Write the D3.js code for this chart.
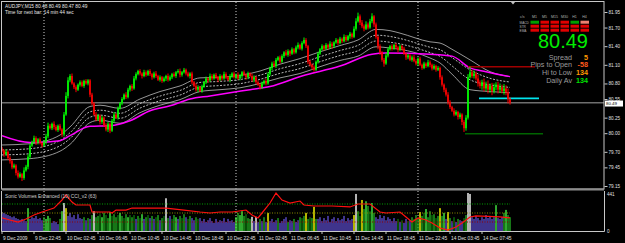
<!DOCTYPE html>
<html>
<head>
<meta charset="utf-8">
<script src="https://cdn.jsdelivr.net/npm/d3@7"></script>
<style>
    html, body { margin: 0; padding: 0; background: #000; overflow: hidden; }
    svg { display: block; }
    text { font-family: "Liberation Sans", Arial, sans-serif; }
</style>
</head>
<body>
<div id="chart"></div>
<script>
// AUDJPY M15, one entry per bar
const firstOpen = 79.75;
const closes = [
    79.72, 79.66, 79.70, 79.60, 79.55, 79.45, 79.48, 79.36, 79.30, 79.34,
    79.28, 79.40, 79.46, 79.62, 79.80, 79.86, 79.92, 79.85, 79.90, 79.84,
    79.80, 79.86, 79.95, 80.12, 80.08, 80.15, 80.10, 80.05, 80.12, 80.06,
    79.98, 80.30, 80.60, 80.85, 80.92, 80.80, 80.74, 80.70, 80.78, 80.82,
    80.76, 80.84, 80.80, 80.85, 80.62, 80.48, 80.30, 80.22, 80.28, 80.18,
    80.25, 80.12, 80.06, 80.15, 80.04, 80.20, 80.30, 80.25, 80.40, 80.48,
    80.55, 80.62, 80.58, 80.70, 80.76, 80.72, 80.88, 80.95, 81.00, 80.96,
    80.92, 80.98, 80.94, 81.00, 80.95, 80.90, 80.96, 80.92, 80.86, 80.90,
    80.84, 80.88, 80.92, 80.86, 80.90, 80.95, 80.92, 80.98, 81.00, 80.94,
    80.98, 81.02, 80.96, 80.92, 80.96, 80.82, 80.76, 80.70, 80.74, 80.68,
    80.75, 80.82, 80.88, 80.85, 80.92, 80.88, 80.94, 80.90, 80.86, 80.92,
    80.88, 80.95, 80.90, 80.86, 80.92, 80.96, 80.90, 80.94, 80.88, 80.92,
    80.98, 80.94, 80.90, 80.96, 80.92, 80.86, 80.90, 80.82, 80.78, 80.74,
    80.80, 80.84, 80.80, 80.95, 81.05, 81.12, 81.08, 81.18, 81.22, 81.15,
    81.24, 81.30, 81.26, 81.32, 81.28, 81.35, 81.30, 81.38, 81.42, 81.36,
    81.45, 81.50, 81.40, 81.15, 81.10, 81.06, 81.02, 81.15, 81.28, 81.35,
    81.40, 81.36, 81.42, 81.38, 81.44, 81.40, 81.46, 81.50, 81.45, 81.52,
    81.48, 81.55, 81.50, 81.56, 81.60, 81.55, 81.68, 81.80, 81.88, 81.78,
    81.72, 81.68, 81.75, 81.70, 81.80, 81.88, 81.75, 81.55, 81.40, 81.30,
    81.18, 81.12, 81.25, 81.35, 81.40, 81.36, 81.42, 81.38, 81.34, 81.40,
    81.36, 81.28, 81.22, 81.25, 81.18, 81.22, 81.16, 81.12, 81.20, 81.10,
    81.05, 81.12, 81.08, 81.14, 81.10, 81.04, 81.08, 81.02, 81.05, 80.90,
    80.78, 80.70, 80.62, 80.50, 80.42, 80.36, 80.30, 80.34, 80.26, 80.30,
    80.18, 80.08, 80.25, 80.90, 80.98, 80.92, 80.96, 80.88, 80.80, 80.76,
    80.82, 80.72, 80.78, 80.70, 80.76, 80.68, 80.74, 80.78, 80.70, 80.74,
    80.68, 80.72, 80.66, 80.55, 80.49
];
// wick lengths in pips above / below the body
const wickUp = [
    3,2,4,2,3,2,3,2,4,3,2,5,3,4,3,2,4,3,2,3,
    2,3,4,5,3,2,4,3,2,3,2,4,6,5,3,4,2,3,2,3,
    3,2,3,2,2,3,2,4,3,2,3,2,4,3,2,3,4,2,3,2,
    3,2,4,3,2,3,4,3,2,3,2,4,3,2,3,2,3,4,2,3,
    2,3,2,4,3,2,3,2,3,4,2,3,2,3,2,3,2,4,3,2,
    3,2,3,2,4,3,2,3,2,3,2,4,3,2,3,2,3,2,4,3,
    2,3,2,3,2,4,3,2,3,2,3,2,4,3,2,3,4,3,2,3,
    3,2,4,3,2,3,2,3,4,2,3,4,3,2,3,2,3,2,3,2,
    3,2,3,2,4,3,2,3,2,3,2,4,3,2,3,2,4,5,6,3,
    4,3,5,3,4,5,2,3,2,3,2,3,4,3,2,3,2,3,2,3,
    2,3,2,3,2,3,4,3,2,3,2,3,2,4,3,2,3,2,3,2,
    3,2,3,4,3,2,4,3,2,3,2,3,4,5,9,4,5,3,6,5,
    4,6,5,7,4,5,6,4,5,6,4,7,5,6,3
];
const wickDown = [
    3,4,2,3,4,3,2,4,3,2,5,3,2,4,3,2,3,4,3,2,
    3,2,4,3,2,3,4,2,3,2,4,3,2,4,3,2,3,4,2,3,
    2,3,2,3,4,3,2,3,2,4,3,2,3,4,4,2,3,2,3,2,
    3,2,3,2,3,4,2,3,2,3,4,2,3,2,3,4,2,3,2,3,
    3,2,4,3,2,3,2,3,2,4,3,2,3,2,4,3,2,3,4,2,
    3,2,3,4,2,3,2,3,4,2,3,2,3,2,4,3,2,3,2,3,
    3,2,4,3,2,3,4,3,2,4,3,2,3,2,3,4,2,3,2,3,
    2,3,2,3,4,2,3,2,3,2,3,2,3,4,3,4,3,2,3,2,
    2,3,2,3,2,4,3,2,3,2,3,2,3,2,4,3,2,3,2,4,
    3,4,2,3,2,3,4,3,5,4,3,5,2,3,2,3,2,3,4,2,
    3,2,4,3,2,3,2,3,4,2,3,2,3,2,4,3,2,3,2,4,
    3,4,3,4,3,2,3,2,4,3,5,6,4,3,2,3,4,3,5,4,
    6,5,4,6,5,7,4,5,6,5,4,6,5,7,3
];

const volumes = [
    220,210,195,185,175,160,170,150,140,130,140,125,115,265,140,160,150,175,140,150,
    125,160,140,175,150,95,115,105,80,140,230,325,265,175,210,160,185,140,195,150,
    140,160,125,150,140,185,230,160,175,195,160,210,185,150,220,175,195,160,185,210,
    175,150,195,160,185,160,185,140,175,150,195,140,160,185,150,175,140,160,185,125,
    150,175,380,150,175,140,185,160,140,175,150,195,160,140,175,150,125,160,140,150,
    115,140,105,125,150,115,95,140,105,125,115,150,105,140,115,125,105,160,210,185,
    230,175,195,150,140,165,115,165,105,140,115,160,105,210,115,140,105,125,150,95,
    115,140,160,105,125,115,140,105,125,160,150,175,210,140,160,150,280,140,140,160,
    115,150,125,175,105,140,160,115,150,125,140,175,115,150,125,140,185,430,230,175,
    360,255,345,290,230,325,210,160,140,185,150,175,125,160,140,115,150,115,140,105,
    125,95,140,115,125,160,140,185,150,220,175,210,255,160,230,185,195,150,175,265,
    175,210,140,220,150,115,160,105,140,125,115,150,185,441,430,160,140,175,150,125,
    160,140,185,150,175,140,160,300,150,140,160,210,245,185,160
];
// b blue, g green, d dark green, G lime, w white, y yellow
const volColors = (
    'bbbbbbbbbbbbbGbbbbbb' + 'bgGGgbbbbgGwybbbbbbb' + 'bgbgbgwggdGgdgGdggdG' +
    'gdgGdgdbgdGbgdbgbdgb' + 'gdwgbdgGbgdgbdgbbgdb' + 'bbbbbbbbbbbbbbbbbGgG' +
    'Ggdggwbwbgbgbybbbbgb' + 'bbbgbbgbbgdgygdgygbb' + 'bbbbbbbbbbbbbbbbywgd' +
    'ygGgdGgbbbbbbbbbbbdb' + 'dbbdbgdggygdGggdgdgy' + 'gGbygbdbgbbdgwwbbbbb' +
    'bbbbbbbGbbbgGgg'
).split('');

const cciBars = [0,4,8,12,16,20,26,30,32,35,37,44,45,54,55,57,62,65,82,91,99,104,109,115,122,125,128,130,134,137,140,144,149,151,156,165,174,178,184,189,192,199,202,205,208,212,215,219,223,227,230,234,237,249,254];
const cciValues = [-55,-78,-100,-67,-22,11,55,144,200,122,89,89,11,11,0,33,33,55,55,33,11,0,11,11,33,-22,-55,0,111,222,144,111,133,89,78,78,67,100,100,11,0,11,-44,-100,-55,-78,-111,-167,-189,-155,-111,-44,-33,-44,-55];
const cciLevels = [100, 0, -100];

const maBars = [0, 14, 29, 34, 44, 54, 64, 74, 84, 94, 104, 114, 124, 134, 150, 169, 185, 192, 214, 225, 234, 242, 254];
const maValues = [79.96, 79.85, 79.88, 79.96, 80.11, 80.12, 80.20, 80.36, 80.44, 80.55, 80.60, 80.65, 80.70, 80.75, 80.92, 81.08, 81.27, 81.29, 81.27, 81.24, 81.05, 80.99, 80.91];

const bandBars = [0, 14, 29, 34, 44, 49, 59, 69, 79, 89, 99, 109, 119, 129, 139, 149, 159, 169, 178, 187, 194, 199, 214, 219, 225, 234, 244, 254];
const bandMid = [79.69, 79.71, 79.84, 79.96, 80.30, 80.33, 80.28, 80.44, 80.56, 80.65, 80.78, 80.80, 80.83, 80.90, 81.00, 81.08, 81.19, 81.29, 81.37, 81.53, 81.51, 81.48, 81.34, 81.29, 81.15, 80.94, 80.83, 80.78];
const bandHalf = [0.12, 0.12, 0.13, 0.14, 0.13, 0.12, 0.12, 0.11, 0.11, 0.11, 0.11, 0.10, 0.10, 0.10, 0.11, 0.12, 0.12, 0.12, 0.13, 0.14, 0.14, 0.13, 0.13, 0.16, 0.20, 0.24, 0.16, 0.13];

// day high, day open area, day low
const levelPrices = [81.07, 80.56, 79.99];
const levelFrom = [233, 238.5, 231.5];
const levelTo = [266.5, 268.5, 270.5];

const bidPrice = 80.49;
const priceTicks = [81.95, 81.70, 81.40, 81.10, 80.80, 80.55, 80.25, 80.00, 79.70, 79.45, 79.15];
const timeLabels = ['9 Dec 2009', '9 Dec 22:45', '10 Dec 02:45', '10 Dec 06:45', '10 Dec 10:45', '10 Dec 14:45',
    '10 Dec 18:45', '10 Dec 22:45', '11 Dec 02:45', '11 Dec 06:45', '11 Dec 10:45', '11 Dec 14:45',
    '11 Dec 18:45', '11 Dec 22:45', '14 Dec 03:45', '14 Dec 07:45'];
const timeLabelBars = [0, 16, 32, 48, 64, 80, 96, 112, 128, 144, 160, 176, 192, 208, 224, 240];
const daySeparators = [21, 117, 208];

const matrixCols = ['M1', 'M5', 'M15', 'M30', 'H1', 'H4'];
const matrixRows = ['MACD', 'STR', 'EMA'];
const matrixState = [
    ['up', 'dn', 'dn', 'dn', 'up', 'weak'],
    ['dn', 'dn', 'dn', 'dn', 'dn', 'dn'],
    ['dn', 'dn', 'dn', 'dn', 'dn', 'dn']
];
const infoLabels = ['Spread', 'Pips to Open', 'Hi to Low', 'Daily Av'];
const infoValues = ['5', '-58', '134', '134'];

(function drawChart() {
    const width = 625, height = 243;
    const frame = { left: 2, right: 604, top: 2, mainBottom: 189, subTop: 191, subBottom: 231 };

    const svg = d3.select('#chart').append('svg')
        .attr('width', width)
        .attr('height', height)
        .style('background', '#000');

    const x = d3.scaleLinear().domain([0, 301]).range([2, 604]);
    const y = d3.scaleLinear().domain([79.15, 81.95]).range([186, 12]);
    const yVol = d3.scaleLinear().domain([0, 441]).range([frame.subBottom, 193]);
    const yCci = d3.scaleLinear().domain([-100, 100]).range([222, 204]);

    const defs = svg.append('defs');
    defs.append('clipPath').attr('id', 'clip-main').append('rect')
        .attr('x', frame.left).attr('y', frame.top)
        .attr('width', frame.right - frame.left).attr('height', frame.mainBottom - frame.top);
    defs.append('clipPath').attr('id', 'clip-sub').append('rect')
        .attr('x', frame.left).attr('y', frame.subTop)
        .attr('width', frame.right - frame.left).attr('height', frame.subBottom - frame.subTop);

    // day separators
    svg.append('g').selectAll('line')
        .data(daySeparators)
        .enter().append('line')
        .attr('x1', d => x(d)).attr('x2', d => x(d))
        .attr('y1', frame.top).attr('y2', frame.subBottom)
        .attr('stroke', '#d0d0d0')
        .attr('stroke-width', 1)
        .attr('stroke-dasharray', '1,2');

    const main = svg.append('g').attr('clip-path', 'url(#clip-main)');

    // bid line
    main.append('line')
        .attr('x1', frame.left).attr('x2', frame.right)
        .attr('y1', y(bidPrice)).attr('y2', y(bidPrice))
        .attr('stroke', '#6e6e6e').attr('stroke-width', 1.6);

    // envelope lines
    const bandLines = [
        { k: 1, color: '#bdbdbd', dash: null },
        { k: 1 / 3, color: '#e6e6e6', dash: '2,1.5' },
        { k: -1 / 3, color: '#e6e6e6', dash: '2,1.5' },
        { k: -1, color: '#bdbdbd', dash: null }
    ];
    bandLines.forEach(b => {
        const line = d3.line()
            .x((d, i) => x(bandBars[i]))
            .y((d, i) => y(bandMid[i] + b.k * bandHalf[i]))
            .curve(d3.curveMonotoneX);
        main.append('path')
            .attr('d', line(bandMid))
            .attr('fill', 'none')
            .attr('stroke', b.color)
            .attr('stroke-width', 0.8)
            .attr('stroke-dasharray', b.dash);
    });

    // moving average
    const maLine = d3.line()
        .x((d, i) => x(maBars[i]))
        .y(d => y(d))
        .curve(d3.curveMonotoneX);
    main.append('path')
        .attr('d', maLine(maValues))
        .attr('fill', 'none')
        .attr('stroke', '#ff00ff')
        .attr('stroke-width', 1.5);

    // day levels
    const levelColors = ['#a00000', '#00e5ee', '#006400'];
    main.append('g').selectAll('line')
        .data(levelPrices)
        .enter().append('line')
        .attr('x1', (d, i) => x(levelFrom[i]))
        .attr('x2', (d, i) => x(levelTo[i]))
        .attr('y1', d => y(d)).attr('y2', d => y(d))
        .attr('stroke', (d, i) => levelColors[i])
        .attr('stroke-width', 1.6);

    // candles
    const bars = closes.map((c, i) => {
        const o = i === 0 ? firstOpen : closes[i - 1];
        return {
            i, o, c,
            h: Math.max(o, c) + (wickUp[i] || 0) / 100,
            l: Math.min(o, c) - (wickDown[i] || 0) / 100
        };
    });
    const candleColor = d => d.c >= d.o ? '#00ff00' : '#ff0000';

    const candles = main.append('g').selectAll('g')
        .data(bars)
        .enter().append('g');
    candles.append('rect')
        .attr('x', d => x(d.i) - 0.5)
        .attr('width', 1)
        .attr('y', d => y(d.h))
        .attr('height', d => y(d.l) - y(d.h))
        .attr('fill', candleColor);
    candles.append('rect')
        .attr('x', d => x(d.i) - 0.8)
        .attr('width', 1.6)
        .attr('y', d => y(Math.max(d.o, d.c)))
        .attr('height', d => Math.max(1, Math.abs(y(d.o) - y(d.c))))
        .attr('fill', candleColor);

    // lower panel: volumes + CCI
    const sub = svg.append('g').attr('clip-path', 'url(#clip-sub)');
    const volPalette = { b: '#5b4bc8', g: '#22a822', d: '#0b700b', G: '#44f044', w: '#ffffff', y: '#ffff00' };

    sub.append('g').selectAll('rect')
        .data(volumes)
        .enter().append('rect')
        .attr('x', (d, i) => x(i) - 0.7)
        .attr('width', 1.4)
        .attr('y', d => yVol(d))
        .attr('height', d => frame.subBottom - yVol(d))
        .attr('fill', (d, i) => volPalette[volColors[i]] || volPalette.b);

    const levelStroke = ['#00a000', '#8a8a00', '#900000'];
    sub.append('g').selectAll('line')
        .data(cciLevels)
        .enter().append('line')
        .attr('x1', x(0)).attr('x2', x(closes.length - 1))
        .attr('y1', d => yCci(d)).attr('y2', d => yCci(d))
        .attr('stroke', (d, i) => levelStroke[i])
        .attr('stroke-width', 1)
        .attr('stroke-dasharray', '1,1.5');

    const cciLine = d3.line()
        .x((d, i) => x(cciBars[i]))
        .y(d => yCci(d));
    sub.append('path')
        .attr('d', cciLine(cciValues))
        .attr('fill', 'none')
        .attr('stroke', '#ff1010')
        .attr('stroke-width', 1.2);

    // frames
    const border = '#c8c8c8';
    svg.append('rect')
        .attr('x', 1.5).attr('y', 1.5)
        .attr('width', frame.right - 1.5).attr('height', frame.mainBottom - 1.5)
        .attr('fill', 'none').attr('stroke', border).attr('stroke-width', 1);
    svg.append('rect')
        .attr('x', 1.5).attr('y', frame.mainBottom - 0.5)
        .attr('width', frame.right - 1.5).attr('height', 2)
        .attr('fill', '#8c8c8c');
    svg.append('path')
        .attr('d', `M1.5,${frame.subTop}V${frame.subBottom + 0.5}H${frame.right + 0.5}V${frame.subTop}`)
        .attr('fill', 'none').attr('stroke', border).attr('stroke-width', 1);

    // chart shift marker
    svg.append('path')
        .attr('d', 'M510.5,1.5L515.5,1.5L513,4.5Z')
        .attr('fill', '#c0c0c0');

    // price axis
    const priceAxis = svg.append('g')
        .attr('transform', `translate(${frame.right + 0.5},0)`)
        .call(d3.axisRight(y).tickValues(priceTicks).tickFormat(d3.format('.2f')).tickSize(3).tickPadding(1));
    priceAxis.select('.domain').remove();
    priceAxis.selectAll('line').attr('stroke', border);
    priceAxis.selectAll('text')
        .attr('fill', '#e0e0e0')
        .style('font-size', '4.6px');

    svg.append('rect')
        .attr('x', 605).attr('y', y(bidPrice) - 2.2)
        .attr('width', 18).attr('height', 6)
        .attr('fill', '#ffffff');
    svg.append('text')
        .attr('x', 606).attr('y', y(bidPrice) + 2.4)
        .attr('fill', '#000')
        .style('font-size', '4.4px')
        .text(bidPrice.toFixed(2));

    svg.append('text').attr('x', 607).attr('y', 196).attr('fill', '#e0e0e0').style('font-size', '4.6px').text('441');
    svg.append('text').attr('x', 607).attr('y', 233).attr('fill', '#e0e0e0').style('font-size', '4.6px').text('0');

    // time axis
    const timeAxis = svg.append('g');
    timeAxis.selectAll('line')
        .data(timeLabelBars)
        .enter().append('line')
        .attr('x1', d => x(d)).attr('x2', d => x(d))
        .attr('y1', frame.subBottom).attr('y2', frame.subBottom + 3)
        .attr('stroke', border);
    timeAxis.selectAll('text')
        .data(timeLabels)
        .enter().append('text')
        .attr('x', (d, i) => x(timeLabelBars[i]) + 1)
        .attr('y', 240)
        .attr('fill', '#e0e0e0')
        .style('font-size', '4.8px')
        .text(d => d);

    // captions
    svg.append('text').attr('x', 5).attr('y', 8).attr('fill', '#e8e8e8').style('font-size', '4.8px')
        .text('AUDJPY,M15  80.48 80.49 80.47 80.49');
    svg.append('text').attr('x', 5).attr('y', 13.5).attr('fill', '#e8e8e8').style('font-size', '4.8px')
        .text('Time for next bar: 14 min 44 sec');
    svg.append('text').attr('x', 5).attr('y', 198).attr('fill', '#d0d0d0').style('font-size', '4.8px')
        .text('Sonic Volumes Enhanced (10)   CCI_v2 (63)');

    // signal matrix
    const matrix = svg.append('g');
    const cellColor = { up: '#00a000', dn: '#e00000', weak: '#f08070' };
    matrix.append('text').attr('x', 520).attr('y', 18).attr('fill', '#b0b0b0').style('font-size', '3.6px').text('c/s');
    matrix.selectAll('.col')
        .data(matrixCols)
        .enter().append('text')
        .attr('x', (d, i) => 534.5 + i * 10)
        .attr('y', 18)
        .attr('text-anchor', 'middle')
        .attr('fill', '#b0b0b0')
        .style('font-size', '3.6px')
        .text(d => d);
    matrixRows.forEach((row, r) => {
        matrix.append('text')
            .attr('x', 519.5).attr('y', 23.6 + r * 4)
            .attr('fill', '#b0b0b0')
            .style('font-size', '3.2px')
            .text(row);
        matrix.selectAll('.row' + r)
            .data(matrixState[r])
            .enter().append('rect')
            .attr('x', (d, i) => 530.5 + i * 10)
            .attr('y', 20.7 + r * 4)
            .attr('width', 8.5)
            .attr('height', 3)
            .attr('fill', d => cellColor[d]);
    });

    // quote block
    svg.append('text')
        .attr('x', 588).attr('y', 48)
        .attr('text-anchor', 'end')
        .attr('fill', '#00ee00')
        .style('font-size', '20px')
        .text(bidPrice.toFixed(2));

    const valueColors = ['#ff9900', '#ff5a1e', '#ff9900', '#00e000'];
    infoLabels.forEach((label, i) => {
        svg.append('text')
            .attr('x', 572).attr('y', 59.5 + i * 7.8)
            .attr('text-anchor', 'end')
            .attr('fill', '#9c9c9c')
            .style('font-size', '7.2px')
            .text(label);
        svg.append('text')
            .attr('x', 588).attr('y', 59.5 + i * 7.8)
            .attr('text-anchor', 'end')
            .attr('fill', valueColors[i])
            .style('font-size', '7.2px')
            .style('font-weight', 'bold')
            .text(infoValues[i]);
    });
})();
</script>
</body>
</html>
